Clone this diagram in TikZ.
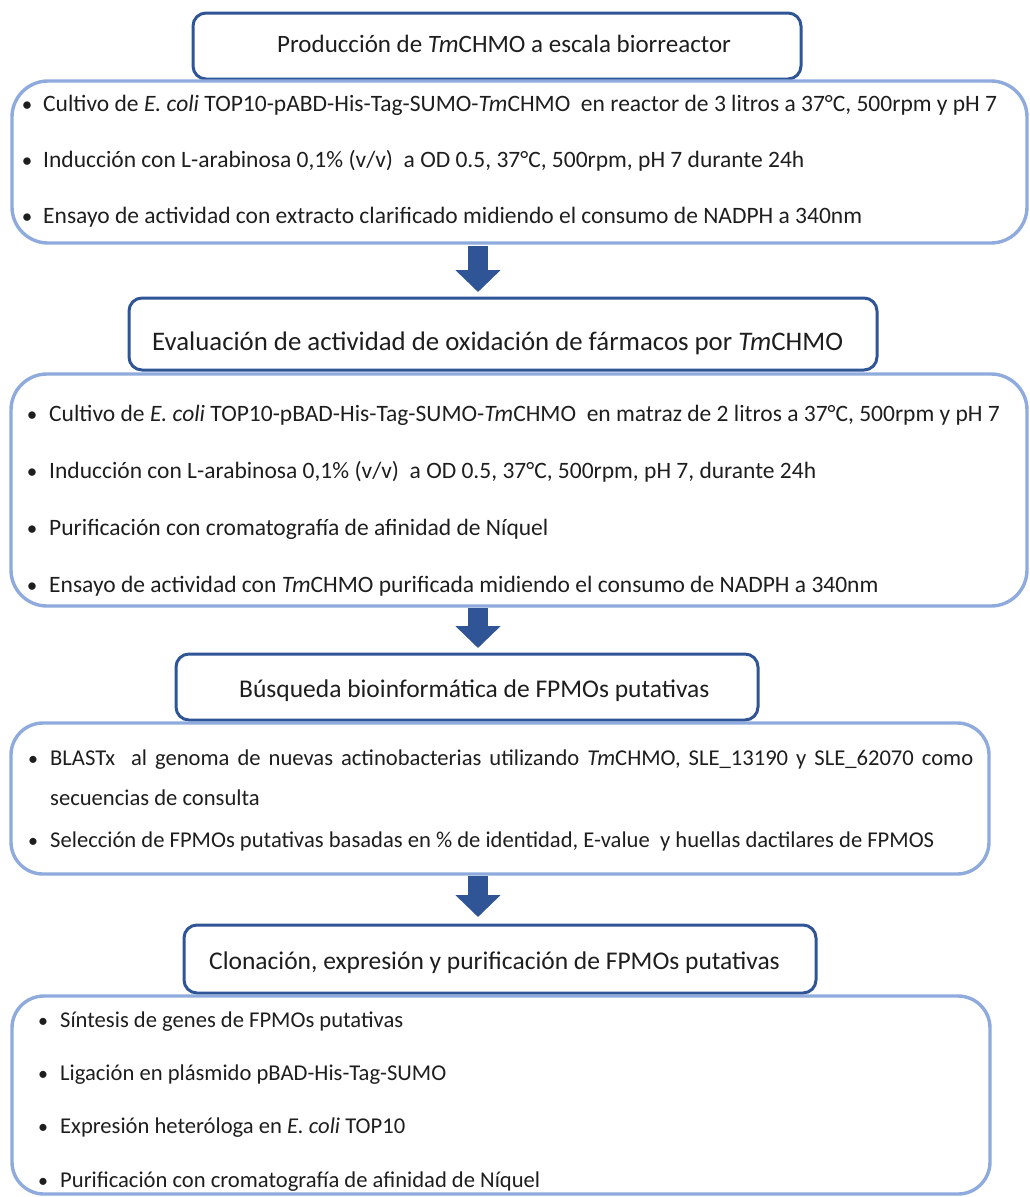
\documentclass[tikz,border=0pt]{standalone}
\usepackage{fontspec}
\setmainfont{Carlito}
\usetikzlibrary{arrows.meta}
\definecolor{darkb}{HTML}{2F5597}
\definecolor{lightb}{HTML}{8FAADC}
\definecolor{txt}{HTML}{1E1E1E}
\begin{document}
\begin{tikzpicture}[x=1pt,y=-1pt,
 titlebox/.style={draw=darkb, line width=3pt, rounded corners=13pt, fill=white, inner sep=0pt},
 detbox/.style={draw=lightb, line width=3.4pt, rounded corners=#1, inner sep=0pt},
 titletext/.style={anchor=base west, inner sep=0pt, font=\fontsize{#1}{30}\selectfont, text=txt},
 bodytext/.style={anchor=base west, inner sep=0pt, font=\fontsize{#1}{26}\selectfont, text=txt},
 bul/.style={anchor=base, inner sep=0pt, font=\fontsize{#1}{26}\selectfont, text=txt},
 flow/.style={draw=darkb, line width=20pt, -{Triangle[width=44pt,length=22pt]}}
]
\useasboundingbox (0,0) rectangle (1029,1197);
\clip (0,0) rectangle (1029,1197);

% title boxes
\node[titlebox, minimum width=608pt, minimum height=66pt] (A) at (497,46) {};
\node[titlebox, minimum width=748pt, minimum height=72pt] (C) at (503,334) {};
\node[titlebox, minimum width=582pt, minimum height=66pt] (E) at (467,687) {};
\node[titlebox, minimum width=632pt, minimum height=68pt] (G) at (500,959) {};

% detail boxes
\node[detbox=36pt, minimum width=1015pt, minimum height=162pt] (B) at (519.5,162) {};
\node[detbox=36pt, minimum width=1016pt, minimum height=232pt] (D) at (519,490) {};
\node[detbox=32pt, minimum width=978pt, minimum height=151pt] (F) at (500,798.5) {};
\node[detbox=32pt, minimum width=978pt, minimum height=198pt] (H) at (501,1095) {};

% titles
\node[titletext=25] (tA) at (277,52) {Producción de \textit{Tm}CHMO a escala biorreactor};
\node[titletext=26.8] (tC) at (152,350) {Evaluación de actividad de oxidación de fármacos por \textit{Tm}CHMO};
\node[titletext=25.5] (tE) at (239,697) {Búsqueda bioinformática de FPMOs putativas};
\node[titletext=25.5] (tG) at (209,969) {Clonación, expresión y purificación de FPMOs putativas};

% box B
\node[bul=21] (bB1) at (27,111) {\textbullet};
\node[bul=21] (bB2) at (27,167) {\textbullet};
\node[bul=21] (bB3) at (27,223) {\textbullet};
\node[bodytext=23.5] (xB1) at (43,111) {Cultivo de \textit{E. coli} TOP10-pABD-His-Tag-SUMO-\textit{Tm}CHMO\ \ en reactor de 3 litros a 37°C, 500rpm y pH 7};
\node[bodytext=23.5] (xB2) at (43,167) {Inducción con L-arabinosa 0,1\% (v/v)\ \ a OD 0.5, 37°C, 500rpm, pH 7 durante 24h};
\node[bodytext=23.5] (xB3) at (43,223) {Ensayo de actividad con extracto clarificado midiendo el consumo de NADPH a 340nm};

% box D
\node[bul=21] (bD1) at (32,421) {\textbullet};
\node[bul=21] (bD2) at (32,478) {\textbullet};
\node[bul=21] (bD3) at (32,535) {\textbullet};
\node[bul=21] (bD4) at (32,592) {\textbullet};
\node[bodytext=23.5] (xD1) at (49,421) {Cultivo de \textit{E. coli} TOP10-pBAD-His-Tag-SUMO-\textit{Tm}CHMO\ \ en matraz de 2 litros a 37°C, 500rpm y pH 7};
\node[bodytext=23.5] (xD2) at (49,478) {Inducción con L-arabinosa 0,1\% (v/v)\ \ a OD 0.5, 37°C, 500rpm, pH 7, durante 24h};
\node[bodytext=23.5] (xD3) at (49,535) {Purificación con cromatografía de afinidad de Níquel};
\node[bodytext=23.5] (xD4) at (49,592) {Ensayo de actividad con \textit{Tm}CHMO purificada midiendo el consumo de NADPH a 340nm};

% box F
\node[bul=20] (bF1) at (33,765) {\textbullet};
\node[bul=20] (bF2) at (33,847) {\textbullet};
\node[bodytext=22.6] (xF1) at (50,765) {\makebox[923pt][s]{BLASTx\ \ al genoma de nuevas actinobacterias utilizando \textit{Tm}CHMO, SLE\_13190 y SLE\_62070 como}};
\node[bodytext=22.6] (xF1b) at (50,805) {secuencias de consulta};
\node[bodytext=22.6] (xF2) at (50,847) {Selección de FPMOs putativas basadas en \% de identidad, E-value\ \ y huellas dactilares de FPMOS};

% box H
\node[bul=20] (bH1) at (43,1027) {\textbullet};
\node[bul=20] (bH2) at (43,1080) {\textbullet};
\node[bul=20] (bH3) at (43,1133) {\textbullet};
\node[bul=20] (bH4) at (43,1187) {\textbullet};
\node[bodytext=22.6] (xH1) at (60,1027) {Síntesis de genes de FPMOs putativas};
\node[bodytext=22.6] (xH2) at (60,1080) {Ligación en plásmido pBAD-His-Tag-SUMO};
\node[bodytext=22.6] (xH3) at (60,1133) {Expresión heteróloga en \textit{E. coli} TOP10};
\node[bodytext=22.6] (xH4) at (60,1187) {Purificación con cromatografía de afinidad de Níquel};

% arrows
\coordinate (a1s) at (478,246);
\coordinate (a1e) at (478,292);
\coordinate (a2s) at (478,608);
\coordinate (a2e) at (478,648);
\coordinate (a3s) at (478,876);
\coordinate (a3e) at (478,917);
\draw[flow] (a1s) -- (a1e);
\draw[flow] (a2s) -- (a2e);
\draw[flow] (a3s) -- (a3e);
\end{tikzpicture}
\end{document}
